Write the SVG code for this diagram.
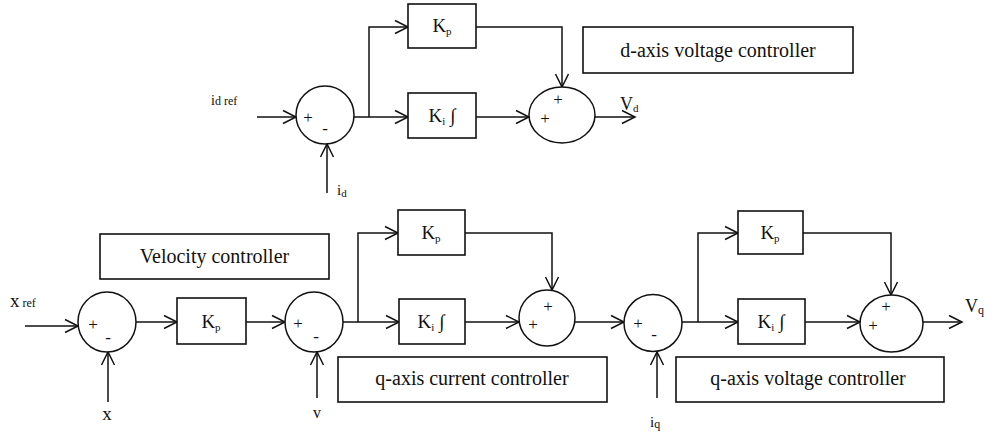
<svg xmlns="http://www.w3.org/2000/svg" width="993" height="443" viewBox="0 0 993 443">
<defs>
<style>
.blk{fill:#fff;stroke:#111;stroke-width:1.6}
.sum{fill:#fff;stroke:#111;stroke-width:1.5}
.ln{fill:none;stroke:#111;stroke-width:1.5}
text{font-family:'Liberation Serif','DejaVu Serif','Times New Roman',serif;fill:#111}
.lab{font-size:20px}
.k{font-size:19px}
.sg{font-size:17px}
.sub{font-size:11px}
</style>
<marker id="ah" markerUnits="userSpaceOnUse" markerWidth="16" markerHeight="16" refX="14" refY="8" orient="auto">
<path d="M1,1.5 L14,8 L1,14.5" fill="none" stroke="#111" stroke-width="1.5"/>
</marker>
</defs>
<rect width="993" height="443" fill="#fff"/>

<g id="connectors">
<line class="ln" x1="257" y1="117" x2="296" y2="117" marker-end="url(#ah)"/>
<line class="ln" x1="327" y1="193" x2="327" y2="144" marker-end="url(#ah)"/>
<line class="ln" x1="354" y1="117" x2="408" y2="117" marker-end="url(#ah)"/>
<polyline class="ln" points="369,117 369,27 408,27" marker-end="url(#ah)"/>
<line class="ln" x1="476" y1="117" x2="529" y2="117" marker-end="url(#ah)"/>
<polyline class="ln" points="476,27 562,27 562,87" marker-end="url(#ah)"/>
<line class="ln" x1="595" y1="117" x2="635" y2="117" marker-end="url(#ah)"/>
<line class="ln" x1="25" y1="326" x2="78" y2="326" marker-end="url(#ah)"/>
<line class="ln" x1="108" y1="402" x2="108" y2="352" marker-end="url(#ah)"/>
<line class="ln" x1="136" y1="322" x2="177" y2="322" marker-end="url(#ah)"/>
<line class="ln" x1="246" y1="322" x2="285" y2="322" marker-end="url(#ah)"/>
<line class="ln" x1="317" y1="398" x2="317" y2="352" marker-end="url(#ah)"/>
<line class="ln" x1="343" y1="322" x2="399" y2="322" marker-end="url(#ah)"/>
<polyline class="ln" points="358,322 358,233 398,233" marker-end="url(#ah)"/>
<line class="ln" x1="465" y1="322" x2="519" y2="322" marker-end="url(#ah)"/>
<polyline class="ln" points="465,233 552,233 552,290" marker-end="url(#ah)"/>
<line class="ln" x1="575" y1="322" x2="624" y2="322" marker-end="url(#ah)"/>
<line class="ln" x1="657" y1="398" x2="657" y2="352" marker-end="url(#ah)"/>
<line class="ln" x1="682" y1="322" x2="738" y2="322" marker-end="url(#ah)"/>
<polyline class="ln" points="698,322 698,233 738,233" marker-end="url(#ah)"/>
<line class="ln" x1="805" y1="322" x2="860" y2="322" marker-end="url(#ah)"/>
<polyline class="ln" points="803,233 891,233 891,295" marker-end="url(#ah)"/>
<line class="ln" x1="923" y1="322" x2="962" y2="322" marker-end="url(#ah)"/>
</g>

<g id="sum_d1">
<ellipse class="sum" cx="325" cy="115" rx="29" ry="29"/>
<text class="sg" x="308" y="123" text-anchor="middle">+</text>
<text class="sg" x="325" y="134" text-anchor="middle">-</text>
</g>
<g id="kp_d">
<rect class="blk" x="408" y="4" width="68" height="44"/>
<text class="k" x="442" y="32" text-anchor="middle">K<tspan class="sub" dy="3">p</tspan></text>
</g>
<g id="ki_d">
<rect class="blk" x="408" y="93" width="68" height="45"/>
<text class="k" x="442" y="122" text-anchor="middle">K<tspan class="sub" dy="3">i</tspan><tspan dy="-3" font-weight="bold"> ∫</tspan></text>
</g>
<g id="sum_d2">
<ellipse class="sum" cx="562" cy="115" rx="33" ry="28"/>
<text class="sg" x="558" y="105" text-anchor="middle">+</text>
<text class="sg" x="545" y="124" text-anchor="middle">+</text>
</g>
<g id="label_d">
<rect class="blk" x="583" y="27" width="270" height="46"/>
<text class="lab" x="718" y="57" text-anchor="middle">d-axis voltage  controller</text>
</g>
<g id="io_d">
<text x="211" y="105" font-size="14">i<tspan font-size="12">d ref</tspan></text>
<text x="337" y="195" font-size="15">i<tspan class="sub" dy="2">d</tspan></text>
<text x="620" y="110" font-size="18">V<tspan class="sub" dy="2">d</tspan></text>
</g>

<g id="label_vel">
<rect class="blk" x="100" y="234" width="229" height="45"/>
<text class="lab" x="214.5" y="263" text-anchor="middle">Velocity controller</text>
</g>
<g id="sum_x">
<ellipse class="sum" cx="107" cy="322" rx="29" ry="30"/>
<text class="sg" x="93" y="330" text-anchor="middle">+</text>
<text class="sg" x="108" y="343" text-anchor="middle">-</text>
</g>
<g id="kp_vel">
<rect class="blk" x="177" y="298" width="69" height="46"/>
<text class="k" x="211" y="328" text-anchor="middle">K<tspan class="sub" dy="3">p</tspan></text>
</g>
<g id="sum_v">
<ellipse class="sum" cx="314" cy="322" rx="29" ry="30"/>
<text class="sg" x="298" y="329" text-anchor="middle">+</text>
<text class="sg" x="316" y="342" text-anchor="middle">-</text>
</g>
<g id="kp_qc">
<rect class="blk" x="398" y="210" width="67" height="45"/>
<text class="k" x="431" y="239" text-anchor="middle">K<tspan class="sub" dy="3">p</tspan></text>
</g>
<g id="ki_qc">
<rect class="blk" x="399" y="299" width="66" height="45"/>
<text class="k" x="431" y="328" text-anchor="middle">K<tspan class="sub" dy="3">i</tspan><tspan dy="-3" font-weight="bold"> ∫</tspan></text>
</g>
<g id="sum_qc">
<ellipse class="sum" cx="547" cy="318" rx="28" ry="28"/>
<text class="sg" x="548" y="312" text-anchor="middle">+</text>
<text class="sg" x="533" y="330" text-anchor="middle">+</text>
</g>
<g id="label_qc">
<rect class="blk" x="338" y="357" width="269" height="45"/>
<text class="lab" x="472" y="385" text-anchor="middle">q-axis current controller</text>
</g>
<g id="sum_i">
<ellipse class="sum" cx="653" cy="323" rx="29" ry="28.5"/>
<text class="sg" x="638" y="329" text-anchor="middle">+</text>
<text class="sg" x="654" y="340" text-anchor="middle">-</text>
</g>
<g id="kp_qv">
<rect class="blk" x="738" y="211" width="65" height="43"/>
<text class="k" x="770" y="239" text-anchor="middle">K<tspan class="sub" dy="3">p</tspan></text>
</g>
<g id="ki_qv">
<rect class="blk" x="738" y="299" width="67" height="45"/>
<text class="k" x="771" y="328" text-anchor="middle">K<tspan class="sub" dy="3">i</tspan><tspan dy="-3" font-weight="bold"> ∫</tspan></text>
</g>
<g id="sum_qv">
<ellipse class="sum" cx="891.5" cy="323.5" rx="31.5" ry="28.5"/>
<text class="sg" x="886" y="312" text-anchor="middle">+</text>
<text class="sg" x="873" y="331" text-anchor="middle">+</text>
</g>
<g id="label_qv">
<rect class="blk" x="676" y="357" width="268" height="45"/>
<text class="lab" x="808" y="385" text-anchor="middle">q-axis voltage  controller</text>
</g>
<g id="io_q">
<text x="10" y="307" font-size="19">x<tspan font-size="12"> ref</tspan></text>
<text x="107" y="420" font-size="19" text-anchor="middle">x</text>
<text x="317" y="418" font-size="16" text-anchor="middle">v</text>
<text x="650" y="427" font-size="15">i<tspan font-size="12" dy="1">q</tspan></text>
<text x="965" y="312" font-size="18">V<tspan font-size="12" dy="2">q</tspan></text>
</g>
</svg>
